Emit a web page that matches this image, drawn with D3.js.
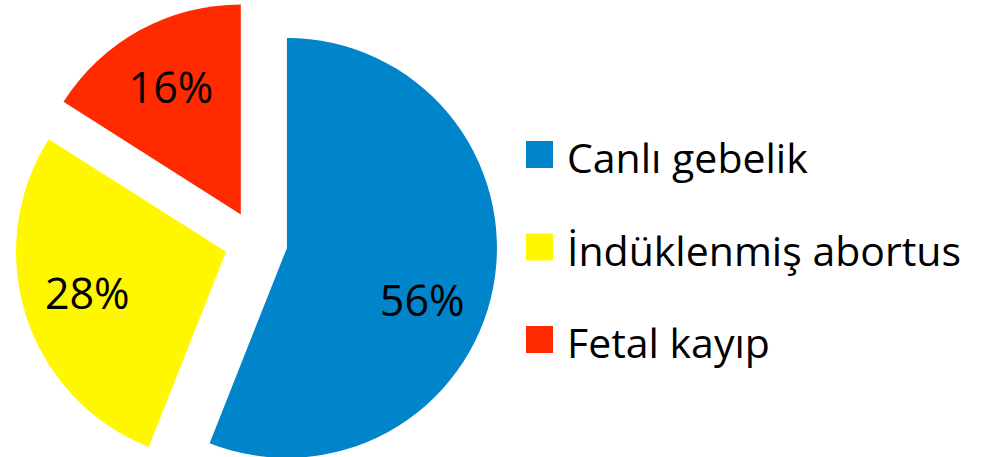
<!DOCTYPE html>
<html lang="tr">
<head>
    <meta charset="UTF-8">
    <style>
        body { margin: 0; background: #fff; }
        #chart { width: 984px; height: 457px; overflow: hidden; }
        text { font-family: "Open Sans", "Noto Sans", sans-serif; fill: #000; }
    </style>
    <script src="https://d3js.org/d3.v7.min.js"></script>
</head>
<body>
    <div id="chart"></div>

    <script>
        // Data
        var categories = ["Canlı gebelik", "İndüklenmiş abortus", "Fetal kayıp"];
        var values = [56, 28, 16];
        var colors = ["#0085CA", "#FFF700", "#FF2A00"];

        var width = 984, height = 457;
        var cx = 256, cy = 242;      // pie centre before exploding
        var radius = 210;
        var explode = 31.5;          // every slice is pulled out
        var labelRadius = 145;
        // small angular nudge for the labels (Excel "best fit")
        var labelNudge = [0.18, 0.02, 0];

        var svg = d3.select("#chart")
            .append("svg")
            .attr("width", width)
            .attr("height", height);

        var pie = d3.pie().sort(null).value(d => d);
        var arcs = pie(values);
        var arc = d3.arc().innerRadius(0).outerRadius(radius);

        var g = svg.append("g")
            .attr("transform", "translate(" + cx + "," + cy + ")");

        var slice = g.selectAll(".slice")
            .data(arcs)
            .enter().append("g")
            .attr("class", "slice")
            .attr("transform", d => {
                var a = (d.startAngle + d.endAngle) / 2;
                return "translate(" + (Math.sin(a) * explode) + "," + (-Math.cos(a) * explode) + ")";
            });

        slice.append("path")
            .attr("d", arc)
            .style("fill", (d, i) => colors[i]);

        slice.append("text")
            .attr("x", (d, i) => Math.sin((d.startAngle + d.endAngle) / 2 + labelNudge[i]) * labelRadius)
            .attr("y", (d, i) => -Math.cos((d.startAngle + d.endAngle) / 2 + labelNudge[i]) * labelRadius)
            .attr("dy", "0.36em")
            .attr("text-anchor", "middle")
            .style("font-size", "43px")
            .text(d => d.value + "%");

        // Legend
        var legend = svg.append("g")
            .attr("transform", "translate(526,141)");

        var item = legend.selectAll(".item")
            .data(categories)
            .enter().append("g")
            .attr("class", "item")
            .attr("transform", (d, i) => "translate(0," + (i * 92.5) + ")");

        item.append("rect")
            .attr("width", 27)
            .attr("height", 27)
            .style("fill", (d, i) => colors[i]);

        item.append("text")
            .attr("x", 41)
            .attr("y", 32)
            .style("font-size", "41px")
            .text(d => d);
    </script>
</body>
</html>
